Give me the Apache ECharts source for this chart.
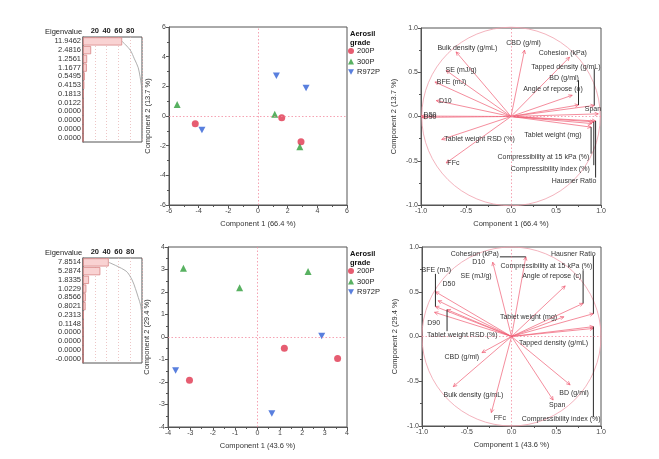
<!DOCTYPE html>
<html><head><meta charset="utf-8">
<script src="https://cdn.jsdelivr.net/npm/echarts@6/dist/echarts.min.js"></script>
<style>html,body{margin:0;padding:0;background:#fff}#c{width:659px;height:459px}</style>
</head><body><div id="c"></div>
<script>
// ---------- data ----------
const eigTopText = ['11.9462','2.4816','1.2561','1.1677','0.5495','0.4153','0.1813','0.0122','0.0000','0.0000','0.0000','0.0000'];
const eigTop = [11.9462,2.4816,1.2561,1.1677,0.5495,0.4153,0.1813,0.0122,0,0,0,0];
const eigBotText = ['7.8514','5.2874','1.8335','1.0229','0.8566','0.8021','0.2313','0.1148','0.0000','0.0000','0.0000','-0.0000'];
const eigBot = [7.8514,5.2874,1.8335,1.0229,0.8566,0.8021,0.2313,0.1148,0,0,0,0];
const pctTicks = [20,40,60,80];

const grades = ['200P','300P','R972P'];
const scoreTop200P = [[-4.23,-0.52],[1.6,-0.11],[2.9,-1.74]];
const scoreTop300P = [[-5.45,0.77],[1.13,0.11],[2.82,-2.08]];
const scoreTopR972P = [[-3.78,-0.95],[1.24,2.72],[3.24,1.88]];
const scoreBot200P = [[1.2,-0.5],[3.58,-0.95],[-3.04,-1.92]];
const scoreBot300P = [[-3.31,3.06],[-0.8,2.19],[2.26,2.91]];
const scoreBotR972P = [[2.87,0.05],[-3.66,-1.49],[0.64,-3.4]];

const varNamesTop = ['Bulk density (g/mL)','CBD (g/ml)','Cohesion (kPa)','Tapped density (g/mL)','BD (g/ml)','Angle of repose (o)','Span','Tablet weight (mg)','Compressibility at 15 kPa (%)','Compressibility index (%)','Hausner Ratio','D10','BFE (mJ)','SE (mJ/g)','D50','D90','Tablet weight RSD (%)','FFc'];
const varNamesBot = ['Bulk density (g/mL)','CBD (g/ml)','Cohesion (kPa)','Tapped density (g/mL)','BD (g/ml)','Angle of repose (c)','Span','Tablet weight (mg)','Compressibility at 15 kPa (%)','Compressibility index (%)','Hausner Ratio','D10','BFE (mJ)','SE (mJ/g)','D50','D90','Tablet weight RSD (%)','FFc'];
const loadTop = [[-0.61,0.73],[0.15,0.75],[0.65,0.67],[0.925,0.125],[0.75,0.13],[0.68,0.24],[0.97,0.03],[0.90,-0.08],[0.89,-0.12],[0.92,-0.06],[0.94,-0.05],[-0.83,0.18],[-0.845,0.39],[-0.72,0.52],[-0.995,0.005],[-0.99,-0.01],[-0.77,-0.26],[-0.72,-0.525]];
const loadBot = [[-0.65,-0.56],[-0.33,-0.18],[0.16,0.89],[0.915,0.09],[0.655,-0.54],[0.60,0.565],[0.465,-0.71],[0.585,0.22],[0.80,0.37],[0.915,0.11],[0.915,0.255],[-0.21,0.83],[-0.85,0.335],[-0.82,0.40],[-0.85,0.50],[-0.86,0.27],[-0.72,0.30],[-0.225,-0.85]];

// ---------- layout (label placement, leader lines) ----------
const labelPosTop = [[-0.485,0.775],[0.14,0.825],[0.575,0.715],[0.61,0.56],[0.59,0.435],[0.466,0.305],[0.91,0.085],[0.466,-0.205],[0.36,-0.46],[0.436,-0.59],[0.70,-0.735],[-0.73,0.175],[-0.66,0.385],[-0.555,0.52],[-0.9,0.015],[-0.9,-0.005],[-0.35,-0.26],[-0.64,-0.525]];
const labelPosBot = [[-0.425,-0.655],[-0.555,-0.225],[-0.41,0.92],[0.47,-0.075],[0.70,-0.635],[0.45,0.67],[0.51,-0.765],[0.19,0.22],[0.39,0.785],[0.555,-0.925],[0.69,0.925],[-0.366,0.83],[-0.84,0.745],[-0.395,0.67],[-0.70,0.585],[-0.87,0.15],[-0.55,0.02],[-0.13,-0.915]];
const leadersTop = [[3,0.925,0.54],[4,0.75,0.41],[8,0.89,-0.42],[9,0.92,-0.55],[10,0.94,-0.69]];
const leadersBot = [[2,-0.13,0.89],[8,0.80,0.74],[9,0.915,-0.90],[10,0.915,0.90],[12,-0.85,0.70],[16,-0.72,0.06]];

// ---------- helpers ----------
const FONT = 'Liberation Sans, Arial, sans-serif';
const RED='#e0354d', GREEN='#2e9e3a', BLUE='#2f5fd6', VEC='#ef5b73';
const DOWN_TRI = 'path://M0,0 L10,0 L5,9 Z';
const sum = a => a.reduce((s,v)=>s+v,0);
const pct = a => a.map(v => v/sum(a)*100);
const cum = a => { let s=0; const p=pct(a); return p.map(v => (s+=v, Math.min(s,100))); };

const grids = [
  {left:83, top:37, width:59, height:105},
  {left:169, top:27, width:178, height:178},
  {left:421, top:28, width:180, height:177},
  {left:83, top:258, width:59, height:105},
  {left:168, top:247, width:179, height:180},
  {left:422, top:247, width:179, height:179}
].map(g => Object.assign(g, {show:true, borderColor:'#555', borderWidth:1, containLabel:false}));

function eigX(gi){
  return {gridIndex:gi, type:'value', min:0, max:100, interval:20, position:'top',
    axisLine:{show:false}, axisTick:{show:false},
    axisLabel:{margin:2, fontSize:7.5, fontWeight:'bold', color:'#222', fontFamily:FONT,
      formatter:v => pctTicks.indexOf(v)>=0 ? String(v) : ''},
    splitLine:{show:true, lineStyle:{type:[1,2], color:'#e8b8b8', width:0.8}}};
}
function eigY(gi, txt){
  return {gridIndex:gi, type:'category', data:txt, inverse:true,
    axisLine:{show:true, lineStyle:{color:'#666', width:1.5}}, axisTick:{show:false},
    axisLabel:{margin:2, fontSize:7.5, color:'#333', fontFamily:FONT, interval:0}};
}
function valAx(gi, min, max, interval, name, isY, fmt, gap){
  return {gridIndex:gi, type:'value', min, max, interval, name, nameLocation:'middle', nameGap:gap,
    nameRotate: isY?90:0,
    nameTextStyle:{fontSize:7.5, color:'#333', fontFamily:FONT},
    axisLine:{show:true, onZero:false, lineStyle:{color:'#555'}},
    axisTick:{show:true, length:3, lineStyle:{color:'#555'}},
    minorTick:{show:true, splitNumber:2, length:2, lineStyle:{color:'#555'}},
    axisLabel:{margin:3, fontSize:7, color:'#444', fontFamily:FONT, formatter:fmt},
    splitLine:{show:false}};
}
const f1 = v => v.toFixed(1);
const f0 = v => String(v);

function zeroLines(gi){
  return {type:'scatter', xAxisIndex:gi, yAxisIndex:gi, data:[], symbolSize:0, silent:true, z:1,
    markLine:{silent:true, symbol:'none', label:{show:false},
      lineStyle:{type:[1.5,2], color:'#f28ca0', width:0.8},
      data:[{xAxis:0},{yAxis:0}]}};
}
function scoreSeries(gi, d200, d300, d972){
  return [
    {name:'200P', type:'scatter', xAxisIndex:gi, yAxisIndex:gi, data:d200, symbol:'circle', symbolSize:7, itemStyle:{color:RED}},
    {name:'300P', type:'scatter', xAxisIndex:gi, yAxisIndex:gi, data:d300, symbol:'triangle', symbolSize:7, itemStyle:{color:GREEN}},
    {name:'R972P', type:'scatter', xAxisIndex:gi, yAxisIndex:gi, data:d972, symbol:DOWN_TRI, symbolSize:[7,6.5], itemStyle:{color:BLUE}}
  ];
}
function circleSeries(gi){
  return {type:'custom', xAxisIndex:gi, yAxisIndex:gi, data:[[0,0]], silent:true, z:1,
    renderItem(params, api){
      const c = api.coord([0,0]); const r = api.size([1,1]);
      return {type:'circle', shape:{cx:c[0], cy:c[1], r:(r[0]+r[1])/2}, style:{fill:null, stroke:'#f0a0ac', lineWidth:0.8}};
    }};
}
function vectorSeries(gi, loads){
  return {type:'custom', xAxisIndex:gi, yAxisIndex:gi, data:loads, silent:true, z:3,
    renderItem(params, api){
      const o = api.coord([0,0]); const p = api.coord([api.value(0), api.value(1)]);
      const ang = Math.atan2(p[1]-o[1], p[0]-o[0]); const L = 4;
      const a1 = [p[0]-L*Math.cos(ang-0.45), p[1]-L*Math.sin(ang-0.45)];
      const a2 = [p[0]-L*Math.cos(ang+0.45), p[1]-L*Math.sin(ang+0.45)];
      return {type:'group', children:[
        {type:'line', shape:{x1:o[0],y1:o[1],x2:p[0],y2:p[1]}, style:{stroke:VEC, lineWidth:0.7}},
        {type:'polyline', shape:{points:[a1,p,a2]}, style:{stroke:VEC, fill:null, lineWidth:0.7}}
      ]};
    }};
}
function leaderSeries(gi, leaders, loads){
  return {type:'custom', xAxisIndex:gi, yAxisIndex:gi, data:leaders.map(l => [l[1], l[2], loads[l[0]][0], loads[l[0]][1]]), silent:true, z:4,
    renderItem(params, api){
      const a = api.coord([api.value(0), api.value(1)]); const b = api.coord([api.value(2), api.value(3)]);
      return {type:'line', shape:{x1:a[0],y1:a[1],x2:b[0],y2:b[1]}, style:{stroke:'#111', lineWidth:0.9}};
    }};
}
function labelSeries(gi, pos, names){
  return {type:'custom', xAxisIndex:gi, yAxisIndex:gi, clip:true, silent:true, z:5,
    data:pos.map((p,i) => [p[0], p[1], i]),
    renderItem(params, api){
      const c = api.coord([api.value(0), api.value(1)]);
      return {type:'text', x:c[0], y:c[1], style:{text:names[api.value(2)], fill:'#333', font:'7px '+FONT, align:'center', verticalAlign:'middle'}};
    }};
}
function legendAt(top){
  return {left:348, top:top, orient:'vertical', data:grades, itemWidth:6, itemHeight:6, itemGap:2.5, padding:0,
    selectedMode:false, textStyle:{fontSize:7.5, color:'#222', fontFamily:FONT, padding:[0,0,0,-2]}};
}
function headText(x, y, text, bold, align){
  return {type:'text', left:x, top:y, style:{text, fill:'#222', font:(bold?'bold ':'')+'7.5px '+FONT, textAlign:align||'left'}};
}

const option = {
  animation:false,
  grid:grids,
  xAxis:[
    eigX(0),
    valAx(1,-6,6,2,'Component 1 (66.4 %)',false,f0,15),
    valAx(2,-1,1,0.5,'Component 1 (66.4 %)',false,f1,15),
    eigX(3),
    valAx(4,-4,4,1,'Component 1 (43.6 %)',false,f0,15),
    valAx(5,-1,1,0.5,'Component 1 (43.6 %)',false,f1,15)
  ],
  yAxis:[
    eigY(0, eigTopText),
    valAx(1,-6,6,2,'Component 2 (13.7 %)',true,f0,17),
    valAx(2,-1,1,0.5,'Component 2 (13.7 %)',true,f1,23),
    eigY(3, eigBotText),
    valAx(4,-4,4,1,'Component 2 (29.4 %)',true,f0,17),
    valAx(5,-1,1,0.5,'Component 2 (29.4 %)',true,f1,23)
  ],
  legend:[legendAt(47), legendAt(267)],
  graphic:[
    {type:'text', left:45, top:28, style:{text:'Eigenvalue', fill:'#222', font:'7.5px '+FONT}},
    {type:'text', left:45, top:249, style:{text:'Eigenvalue', fill:'#222', font:'7.5px '+FONT}},
    {type:'text', left:350, top:29, style:{text:'Aerosil\ngrade', fill:'#111', font:'bold 7.5px '+FONT, lineHeight:9.5}},
    {type:'text', left:350, top:249, style:{text:'Aerosil\ngrade', fill:'#111', font:'bold 7.5px '+FONT, lineHeight:9.5}}
  ],
  series:[
    {type:'bar', xAxisIndex:0, yAxisIndex:0, data:pct(eigTop), barCategoryGap:'6%', silent:true,
      itemStyle:{color:'#f9d2d2', borderColor:'#d88484', borderWidth:0.8}},
    {type:'line', xAxisIndex:0, yAxisIndex:0, data:cum(eigTop).map((c,i)=>[c,i]), symbol:'none', smooth:0.3, silent:true,
      lineStyle:{color:'#9a9a9a', width:0.8}},
    {type:'bar', xAxisIndex:3, yAxisIndex:3, data:pct(eigBot), barCategoryGap:'6%', silent:true,
      itemStyle:{color:'#f9d2d2', borderColor:'#d88484', borderWidth:0.8}},
    {type:'line', xAxisIndex:3, yAxisIndex:3, data:cum(eigBot).map((c,i)=>[c,i]), symbol:'none', smooth:0.3, silent:true,
      lineStyle:{color:'#9a9a9a', width:0.8}},
    zeroLines(1),
    ...scoreSeries(1, scoreTop200P, scoreTop300P, scoreTopR972P),
    zeroLines(4),
    ...scoreSeries(4, scoreBot200P, scoreBot300P, scoreBotR972P),
    zeroLines(2),
    circleSeries(2),
    vectorSeries(2, loadTop),
    leaderSeries(2, leadersTop, loadTop),
    labelSeries(2, labelPosTop, varNamesTop),
    zeroLines(5),
    circleSeries(5),
    vectorSeries(5, loadBot),
    leaderSeries(5, leadersBot, loadBot),
    labelSeries(5, labelPosBot, varNamesBot)
  ]
};
const chart = echarts.init(document.getElementById('c'), null, {renderer:'canvas'});
chart.setOption(option);
</script></body></html>
